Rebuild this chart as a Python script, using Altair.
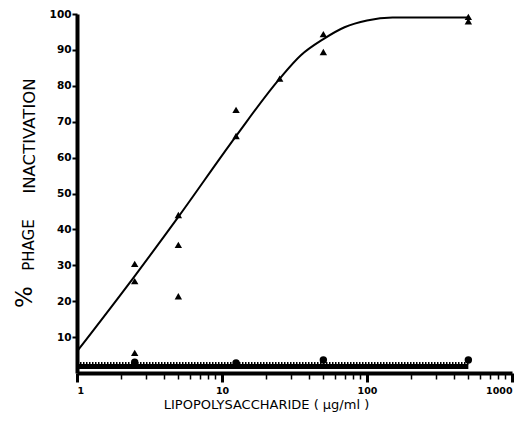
import altair as alt
import pandas as pd

# fitted curve
curve_x = [1, 2.5, 5, 12.5, 25, 35, 50, 70, 100, 150, 500]
curve_y = [6, 27, 43.5, 66, 82, 88.5, 93, 96.3, 98.2, 99, 99]

# triangles: LPS treated
tri_x = [2.5, 2.5, 2.5, 5, 5, 5, 12.5, 12.5, 25, 50, 50, 500, 500]
tri_y = [30.4, 25.6, 5.6, 44, 35.7, 21.4, 73.3, 66, 82, 94.4, 89.4, 99.2, 98]

# circles: controls
circ_x = [2.5, 12.5, 50, 500]
circ_y = [3.0, 2.8, 3.6, 3.6]

# control band
band_x = [1]
band_x2 = [500]
band_y = [1.8]

x_ticks = [1, 2, 3, 4, 5, 6, 7, 8, 9, 10, 20, 30, 40, 50, 60, 70, 80, 90,
           100, 200, 300, 400, 500, 600, 700, 800, 900, 1000]
y_ticks = [10, 20, 30, 40, 50, 60, 70, 80, 90, 100]

xs = alt.Scale(type="log", domain=[1, 1000], nice=False)
ys = alt.Scale(domain=[0, 100], nice=False, zero=True)

major = "indexof([1,10,100,1000], datum.value) >= 0"

xaxis = alt.Axis(values=x_ticks, format="d",
                 labelExpr=f"{major} ? datum.label : ''",
                 tickSize={"expr": f"{major} ? 9 : 6"},
                 tickWidth={"expr": f"{major} ? 3 : 1.5"},
                 domainWidth=4, tickColor="black", domainColor="black",
                 labelFont="DejaVu Sans", labelFontWeight="bold", labelFontSize=9.5,
                 labelPadding=3, grid=False, labelColor="black", labelOverlap=False,
                 title="LIPOPOLYSACCHARIDE ( µg/ml )", titleFont="DejaVu Sans",
                 titleFontWeight="normal", titleFontSize=13, titleColor="black",
                 titlePadding=4, titleX=189)
yaxis = alt.Axis(values=y_ticks, title=None, tickSize=5, tickWidth=2,
                 domainWidth=4, domainColor="black", tickColor="black",
                 labelFont="DejaVu Sans", labelFontWeight="bold", labelFontSize=10.5,
                 labelPadding=1, grid=False, labelColor="black", labelOverlap=False,
                 labelBound=False)

X = alt.X("x:Q", scale=xs, axis=xaxis)
Y = alt.Y("y:Q", scale=ys, axis=yaxis)

curve_df = pd.DataFrame({"x": curve_x, "y": curve_y})
tri_df = pd.DataFrame({"x": tri_x, "y": tri_y})
circ_df = pd.DataFrame({"x": circ_x, "y": circ_y})
band_df = pd.DataFrame({"x": band_x, "x2": band_x2, "y": band_y})

band = alt.Chart(band_df).mark_rule(color="black", strokeWidth=5).encode(
    x=X, x2="x2:Q", y=Y)
serr = alt.Chart(band_df).mark_rule(color="black", strokeWidth=3, strokeDash=[1.5, 1.5],
                                     yOffset=-3).encode(x=X, x2="x2:Q", y=Y)
line = alt.Chart(curve_df).mark_line(color="black", strokeWidth=2,
                                      interpolate="monotone").encode(x=X, y=Y)
tris = alt.Chart(tri_df).mark_point(shape="triangle-up", filled=True, color="black",
                                     opacity=1, size=55).encode(x=X, y=Y)
circs = alt.Chart(circ_df).mark_circle(color="black", opacity=1, size=55).encode(x=X, y=Y)

t_inact = alt.Chart(pd.DataFrame({"t": ["INACTIVATION"]})).mark_text(
    angle=270, font="DejaVu Sans", fontSize=16.5, color="black",
    align="center", baseline="middle").encode(
    text="t:N", x=alt.value(-47), y=alt.value(122))
t_phage = alt.Chart(pd.DataFrame({"t": ["PHAGE"]})).mark_text(
    angle=270, font="DejaVu Sans", fontSize=15, color="black",
    align="center", baseline="middle").encode(
    text="t:N", x=alt.value(-48), y=alt.value(231))
t_pct = alt.Chart(pd.DataFrame({"t": ["%"]})).mark_text(
    angle=270, font="DejaVu Sans", fontSize=23, color="black",
    align="center", baseline="middle").encode(
    text="t:N", x=alt.value(-52), y=alt.value(283))

chart = alt.layer(band, serr, line, tris, circs, t_inact, t_phage, t_pct).properties(
    width=435, height=359,
    autosize=alt.AutoSizeParams(type="none"),
    padding={"left": 69, "top": 6, "right": 10, "bottom": 45},
).configure_view(stroke=None).configure_axis(labelOverlap=False)

chart.save("out.html", embed_options={"renderer": "svg", "actions": False})
